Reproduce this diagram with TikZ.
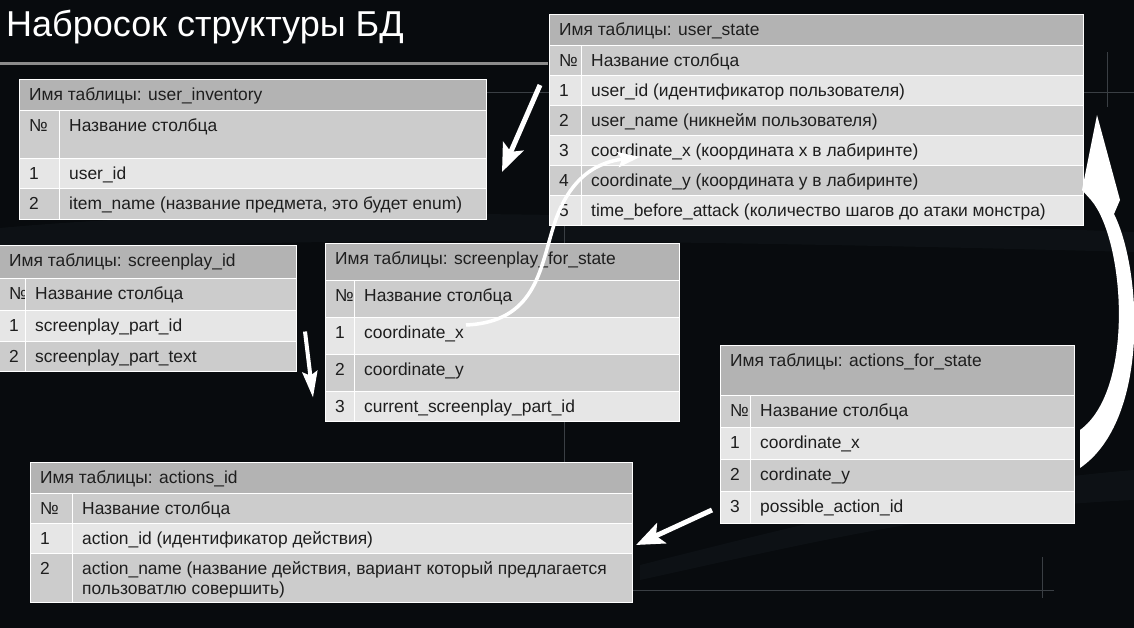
\documentclass[tikz,border=0pt]{standalone}
\usepackage{fontspec}
\setmainfont{Liberation Sans}
\usetikzlibrary{calc,arrows.meta}

\definecolor{bgdark}{HTML}{080B0E}
\definecolor{swoosh}{HTML}{1A2127}
\definecolor{faintline}{HTML}{3A3F44}
\definecolor{rulegray}{HTML}{8C8C8C}
\definecolor{hdrgray}{HTML}{B3B3B3}
\definecolor{midgray}{HTML}{CCCCCC}
\definecolor{lightgray}{HTML}{E6E6E6}
\definecolor{inkgray}{HTML}{1E1E1E}

\tikzset{
  rowcell/.style={draw=white, line width=0.8pt, inner sep=0pt, outer sep=0pt, anchor=north west},
  celltext/.style={font=\fontsize{17.4}{20}\selectfont, text=inkgray, inner sep=0pt, anchor=base west},
  titletext/.style={font=\fontsize{36}{40}\selectfont, text=white, inner sep=0pt, anchor=base west},
  thinline/.style={draw=faintline, line width=1pt},
  wideline/.style={draw=rulegray, line width=3pt},
  fatarrow/.style={draw=white, line width=5pt, -{Stealth[length=28pt,width=22pt,inset=6pt]}},
  slimarrow/.style={draw=white, line width=4pt, -{Stealth[length=26pt,width=15pt,inset=4pt]}},
  curvearrow/.style={draw=white, line width=3.5pt, -{Stealth[length=22pt,width=15pt,inset=4pt]}},
}

% header row: name, x, y, width, height, text
\newcommand\tabhead[6]{%
  \node[rowcell, fill=hdrgray, minimum width=#4pt, minimum height=#5pt] (#1) at (#2,#3) {};
  \node[celltext] (#1-t) at ($(#1.north west)+(10,21.5)$) {#6};
}
% body row: name, x, y, width, height, divider offset, fill, number, text
\newcommand\tabrow[9]{%
  \node[rowcell, fill=#7, minimum width=#4pt, minimum height=#5pt] (#1) at (#2,#3) {};
  \node[celltext] (#1-n) at ($(#1.north west)+(10,21.5)$) {#8};
  \node[rowcell, fill=#7, minimum width={(#4-#6)*1pt}, minimum height=#5pt] (#1-b) at ($(#1.north west)+(#6,0)$) {};
  \node[celltext] (#1-t) at ($(#1-b.north west)+(10,21.5)$) {#9};
}

\begin{document}
\begin{tikzpicture}[x=1pt, y=-1pt]
\useasboundingbox (0,0) rectangle (1134,628);
\fill[bgdark] (0,0) rectangle (1134,628);

% soft background bands
\fill[swoosh, opacity=0.3] (0,228) .. controls (250,205) and (600,212) .. (1134,232) -- (1134,252) .. controls (600,238) and (250,236) .. (0,255) -- cycle;
\fill[swoosh, opacity=0.3] (640,565) .. controls (800,525) and (950,485) .. (1134,470) -- (1134,500) .. controls (950,508) and (800,545) .. (640,580) -- cycle;

% guide lines
\draw[thinline] (486,93) -- (1134,93);
\draw[thinline] (1107,52) -- (1107,107);
\draw[thinline] (564,225) -- (564,462);
\draw[thinline] (632,590) -- (1054,590);
\draw[thinline] (1042,557) -- (1042,598);

% title
\node[titletext] (title) at (6,37) {Набросок структуры БД};
\draw[wideline] (0,64) -- (548,64);

% user_state
\tabhead{us-h}{549}{14}{534}{31}{Имя таблицы: user\_state}
\tabrow{us-c}{549}{45}{534}{30}{32}{midgray}{№}{Название столбца}
\tabrow{us-r1}{549}{75}{534}{30}{32}{lightgray}{1}{user\_id (идентификатор пользователя)}
\tabrow{us-r2}{549}{105}{534}{30}{32}{midgray}{2}{user\_name (никнейм пользователя)}
\tabrow{us-r3}{549}{135}{534}{30}{32}{lightgray}{3}{coordinate\_x (координата x в лабиринте)}
\tabrow{us-r4}{549}{165}{534}{30}{32}{midgray}{4}{coordinate\_y (координата y в лабиринте)}
\tabrow{us-r5}{549}{195}{534}{30}{32}{lightgray}{5}{time\_before\_attack (количество шагов до атаки монстра)}

% user_inventory
\tabhead{ui-h}{19}{79}{467}{31}{Имя таблицы: user\_inventory}
\tabrow{ui-c}{19}{110}{467}{48}{40}{midgray}{№}{Название столбца}
\tabrow{ui-r1}{19}{158}{467}{30}{40}{lightgray}{1}{user\_id}
\tabrow{ui-r2}{19}{188}{467}{31}{40}{midgray}{2}{item\_name (название предмета, это будет enum)}

% screenplay_id
\tabhead{si-h}{-1}{245}{297}{33}{Имя таблицы: screenplay\_id}
\tabrow{si-c}{-1}{278}{297}{32}{26}{midgray}{№}{Название столбца}
\tabrow{si-r1}{-1}{310}{297}{31}{26}{lightgray}{1}{screenplay\_part\_id}
\tabrow{si-r2}{-1}{341}{297}{30}{26}{midgray}{2}{screenplay\_part\_text}

% screenplay_for_state
\tabhead{sf-h}{325}{243}{354}{37}{Имя таблицы: screenplay\_for\_state}
\tabrow{sf-c}{325}{280}{354}{37}{29}{midgray}{№}{Название столбца}
\tabrow{sf-r1}{325}{317}{354}{37}{29}{lightgray}{1}{coordinate\_x}
\tabrow{sf-r2}{325}{354}{354}{37}{29}{midgray}{2}{coordinate\_y}
\tabrow{sf-r3}{325}{391}{354}{30}{29}{lightgray}{3}{current\_screenplay\_part\_id}

% actions_for_state
\tabhead{af-h}{720}{345}{354}{50}{Имя таблицы: actions\_for\_state}
\tabrow{af-c}{720}{395}{354}{32}{30}{midgray}{№}{Название столбца}
\tabrow{af-r1}{720}{427}{354}{32}{30}{lightgray}{1}{coordinate\_x}
\tabrow{af-r2}{720}{459}{354}{32}{30}{midgray}{2}{cordinate\_y}
\tabrow{af-r3}{720}{491}{354}{32}{30}{lightgray}{3}{possible\_action\_id}

% actions_id
\tabhead{ai-h}{30}{462}{602}{31}{Имя таблицы: actions\_id}
\tabrow{ai-c}{30}{493}{602}{30}{42}{midgray}{№}{Название столбца}
\tabrow{ai-r1}{30}{523}{602}{30}{42}{lightgray}{1}{action\_id (идентификатор действия)}
\tabrow{ai-r2}{30}{553}{602}{49}{42}{midgray}{2}{\vtop{\hbox{action\_name (название действия, вариант который предлагается}\hbox{пользоватлю совершить)}}}

% links between tables
\draw[fatarrow] ([shift={(-9,-5)}]us-r1.west) -- ([shift={(16,-1)}]ui-r1.east);
\draw[slimarrow] ([shift={(9,6)}]si-r1.east) -- ([shift={(-12,25)}]sf-r2.west);
\draw[curvearrow] ([shift={(141,8)}]sf-r1.north west) .. controls (535,322) and (540,270) .. (553,228)
  .. controls (566,185) and (590,163) .. ([shift={(91,22)}]us-r3.north west);
\draw[fatarrow] ([shift={(-8,3)}]af-r3.west) -- ([shift={(4,7)}]ai-r1.east);

% circular arrow from actions_for_state back up to user_state
\fill[white] ([shift={(6,-13)}]af-r1.east) .. controls (1135,390) and (1125,240) .. (1091,200)
  -- (1082,190) -- ([shift={(14,-35)}]us-r3.east) -- (1120,200) -- (1114,214)
  .. controls (1142,270) and (1150,420) .. ([shift={(6,25)}]af-r1.east) -- cycle;
\end{tikzpicture}
\end{document}
